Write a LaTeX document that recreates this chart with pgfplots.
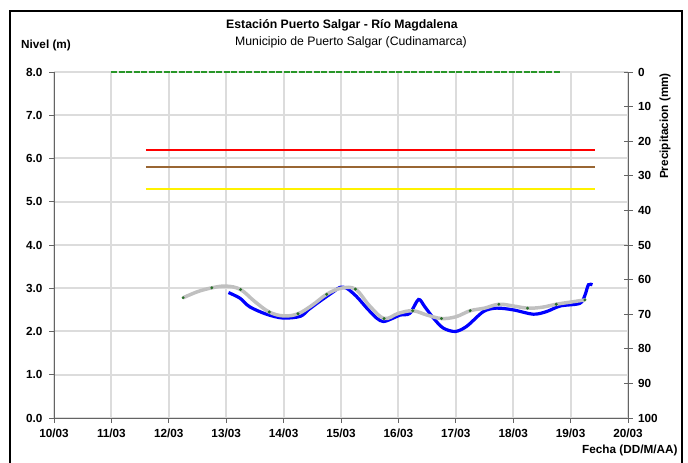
\documentclass[border=0pt]{standalone}
\usepackage{fontspec}
\setmainfont{Liberation Sans}
\usepackage{pgfplots}
\pgfplotsset{compat=1.18}
\definecolor{gridc}{RGB}{220,220,220}
\definecolor{axc}{RGB}{100,100,100}
\definecolor{brownc}{RGB}{153,102,51}
\definecolor{grayl}{RGB}{192,192,192}
\definecolor{greenc}{RGB}{40,150,40}
\definecolor{markc}{RGB}{40,110,40}
\begin{document}
\begin{tikzpicture}[x=1bp,y=1bp]
\path[use as bounding box] (0,0) rectangle (688,463);
\begin{axis}[
  at={(54bp,45bp)}, anchor=south west, scale only axis,
  width=574bp, height=346bp,
  xmin=10, xmax=20, ymin=0, ymax=8,
  axis y line*=left, axis x line*=bottom,
  axis line style={axc, line width=0.8pt, -},
  xtick={10,...,20},
  xticklabels={10/03,11/03,12/03,13/03,14/03,15/03,16/03,17/03,18/03,19/03,20/03},
  ytick={0,...,8},
  tick align=outside, major tick length=5bp,
  tick style={axc, line width=0.8pt},
  grid=major, major grid style={gridc, line width=2bp},
  /pgf/number format/assume math mode=true,
  yticklabel={\pgfmathprintnumber[fixed,fixed zerofill,precision=1]{\tick}},
  ticklabel style={font=\bfseries\fontsize{11.8}{13}\selectfont},
  xticklabel style={yshift=-2bp},
  yticklabel style={xshift=-3bp},
  clip=false,
]
\addplot[red, line width=2.3pt] coordinates {(11.6,6.2) (19.42,6.2)};
\addplot[brownc, line width=2.3pt] coordinates {(11.6,5.8) (19.42,5.8)};
\addplot[yellow, line width=2.3pt] coordinates {(11.6,5.3) (19.42,5.3)};
\addplot[blue, line width=3.2pt, smooth, tension=0.5] coordinates {
(13.04,2.90) (13.24,2.77) (13.41,2.57) (13.70,2.40) (13.99,2.31)
(14.29,2.35) (14.43,2.50) (14.58,2.65) (14.75,2.81) (14.87,2.92)
(14.98,3.02) (15.10,3.00) (15.27,2.81) (15.45,2.54) (15.62,2.31)
(15.74,2.23) (15.91,2.31) (16.03,2.38) (16.20,2.42) (16.35,2.74)
(16.46,2.57) (16.61,2.31) (16.78,2.08) (16.99,2.00) (17.19,2.12)
(17.48,2.46) (17.71,2.54) (18.00,2.50) (18.35,2.40) (18.58,2.46)
(18.82,2.59) (19.16,2.65) (19.25,2.84) (19.31,3.08) (19.38,3.08)};
\addplot[grayl, line width=3.5pt, smooth, tension=0.6] coordinates {
(12.25,2.78) (12.50,2.92) (12.75,3.01) (13.00,3.05) (13.25,2.97)
(13.50,2.69) (13.75,2.45) (14.00,2.36) (14.25,2.41) (14.50,2.61)
(14.75,2.86) (15.00,3.00) (15.25,2.98) (15.50,2.59) (15.75,2.30)
(16.00,2.42) (16.25,2.48) (16.50,2.38) (16.75,2.30) (17.00,2.34)
(17.25,2.48) (17.50,2.54) (17.75,2.63) (18.00,2.59) (18.25,2.54)
(18.50,2.56) (18.75,2.63) (19.00,2.68) (19.25,2.73)};
\addplot[only marks, mark=*, mark size=1.3pt, markc] coordinates {
(12.25,2.78) (12.75,3.01) (13.25,2.97) (13.75,2.45) (14.25,2.41)
(14.75,2.86) (15.25,2.98) (15.75,2.30) (16.25,2.48) (16.75,2.30)
(17.25,2.48) (17.75,2.63) (18.25,2.54) (18.75,2.63) (19.25,2.73)};
\end{axis}
\begin{axis}[
  at={(54bp,45bp)}, anchor=south west, scale only axis,
  width=574bp, height=346bp,
  xmin=10, xmax=20, ymin=0, ymax=100, y dir=reverse,
  axis y line*=right, axis x line=none,
  xtick=\empty, grid=none,
  axis line style={axc, line width=0.8pt, -},
  ytick={0,10,...,100},
  tick align=center, major tick length=9bp,
  tick style={axc, line width=0.8pt},
  /pgf/number format/assume math mode=true,
  ticklabel style={font=\bfseries\fontsize{11.8}{13}\selectfont},
  yticklabel style={xshift=2bp},
  clip=false,
]
\addplot[greenc, line width=2pt, dash pattern=on 6bp off 1.5bp] coordinates {(11.0,0) (18.82,0)};
\end{axis}
\draw[line width=2.5bp] (10,-5) -- (10,452) -- (682,452) -- (682,-5);
\node[font=\bfseries\fontsize{12.3}{14}\selectfont] at (342,438) {Estación Puerto Salgar - Río Magdalena};
\node[font=\fontsize{12.3}{14}\selectfont] at (351,421) {Municipio de Puerto Salgar (Cudinamarca)};
\node[font=\bfseries\fontsize{11.8}{13}\selectfont] at (46,418) {Nivel (m)};
\node[font=\bfseries\fontsize{11.8}{13}\selectfont, anchor=east] at (681,13) {Fecha (DD/M/AA)};
\node[font=\bfseries\fontsize{11.8}{13}\selectfont, rotate=90] at (665,337) {Precipitacion (mm)};
\end{tikzpicture}
\end{document}
